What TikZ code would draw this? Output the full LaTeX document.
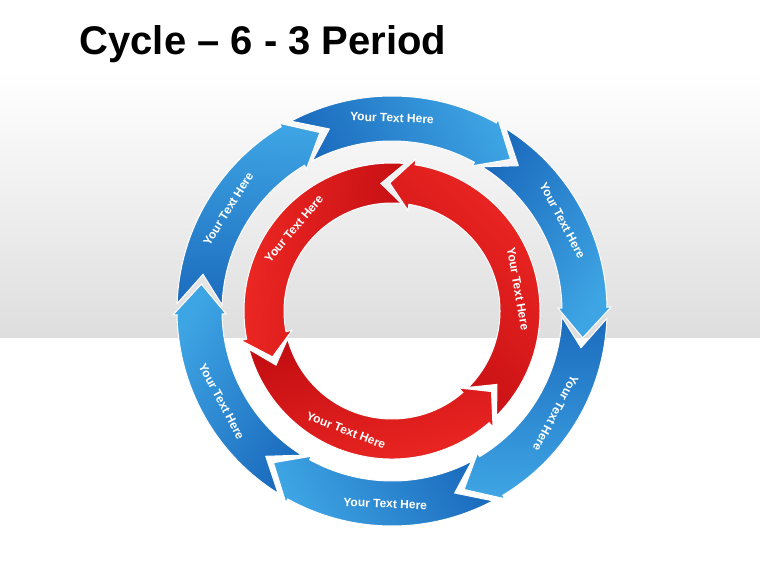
\documentclass[tikz,border=0pt]{standalone}
\usepackage{fontspec}
\setmainfont{Liberation Sans}
\usetikzlibrary{positioning}
\definecolor{ringBlueDark}{RGB}{28,108,190}
\definecolor{ringBlueLight}{RGB}{62,165,228}
\definecolor{ringRedDark}{RGB}{196,14,18}
\definecolor{ringRedLight}{RGB}{238,40,36}
\tikzset{
    label text/.style={text=white, font=\bfseries\fontsize{12}{13}\selectfont},
    blue arrow/.style={draw=white, line width=1pt, left color=ringBlueDark, right color=ringBlueLight},
    red arrow/.style={draw=white, line width=1pt, left color=ringRedLight, right color=ringRedDark}
}
% clockwise segment: #1 tail angle, #2 head angle
\newcommand\cwseg[2]{%
  \shade[blue arrow, shading angle=#1] (#1:215) arc[start angle=#1, end angle=#2, radius=215]
    -- (#2:219) -- ({#2-9}:192.5) -- (#2:166) -- (#2:170)
    arc[start angle=#2, end angle=#1, radius=170] -- ({#1-9}:192.5) -- cycle;}
% counter-clockwise segment: #1 tail angle, #2 head angle
\newcommand\ccwseg[2]{%
  \shade[red arrow, shading angle=#1] (#1:148) arc[start angle=#1, end angle=#2, radius=148]
    -- (#2:154) -- ({#2+10}:128) -- (#2:102) -- (#2:108)
    arc[start angle=#2, end angle=#1, radius=108] -- ({#1+10}:128) -- cycle;}

\begin{document}
\begin{tikzpicture}[x=1pt, y=1pt]
    % Background
    \useasboundingbox (0,0) rectangle (760,570);
    \fill[white] (0,0) rectangle (760,570);
    \shade[top color=white, bottom color=black!13] (0,232) rectangle (760,500);
    \node[anchor=base west, font=\bfseries\fontsize{40}{44}\selectfont] (title) at (76,515) {Cycle -- 6 - 3 Period};

    \begin{scope}[shift={(392,259)}]
        % Outer ring
        \foreach \a in {58,-2,-62,-122,178,118}
            \cwseg{\a}{\a-57};
        % Inner ring
        \ccwseg{85}{191}
        \ccwseg{195}{311}
        \ccwseg{315}{441}

        % Outer labels
        \node[label text, rotate=-2]   (outerA) at (90:193)   {Your Text Here};
        \node[label text, rotate=-62]  (outerB) at (28:193)   {Your Text Here};
        \node[label text, rotate=-118] (outerC) at (-32:193)  {Your Text Here};
        \node[label text, rotate=-2]   (outerD) at (-92:193)  {Your Text Here};
        \node[label text, rotate=-62]  (outerE) at (-152:193) {Your Text Here};
        \node[label text, rotate=58]   (outerF) at (148:193)  {Your Text Here};

        % Inner labels
        \node[label text, rotate=50]  (innerA) at (140:128) {Your Text Here};
        \node[label text, rotate=-80] (innerB) at (10:128)  {Your Text Here};
        \node[label text, rotate=-21] (innerC) at (249:128) {Your Text Here};
    \end{scope}
\end{tikzpicture}
\end{document}
